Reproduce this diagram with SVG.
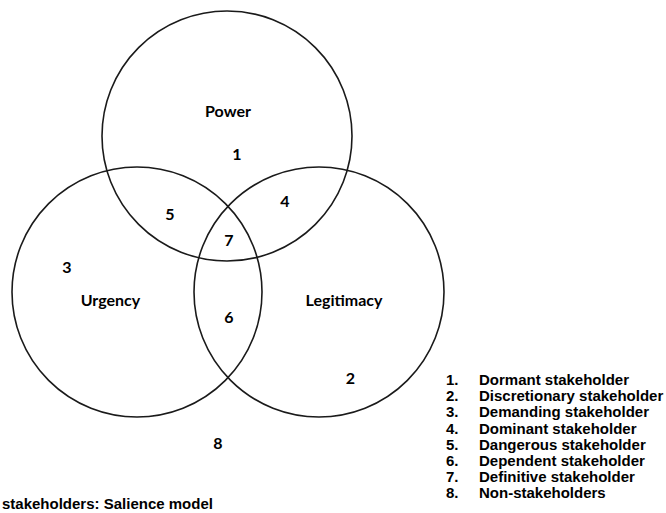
<svg xmlns="http://www.w3.org/2000/svg" width="666" height="513" viewBox="0 0 666 513">
<style>
.c{fill:none;stroke:#1a1a1a;stroke-width:1.6}
.lb{font-family:Lato,"Open Sans",sans-serif;font-weight:bold;font-size:16px;fill:#000;text-anchor:middle}
.lg{font-family:"Liberation Sans",Arial,sans-serif;font-weight:bold;font-size:15px;fill:#000}
</style>
<rect width="666" height="513" fill="#fff"/>
<g id="power"><circle class="c" cx="227" cy="136" r="125"/><text class="lb" x="228" y="117">Power</text></g>
<g id="urgency"><circle class="c" cx="137" cy="292" r="125"/><text class="lb" x="110.5" y="306">Urgency</text></g>
<g id="legitimacy"><circle class="c" cx="319" cy="292" r="125"/><text class="lb" x="344" y="306">Legitimacy</text></g>
<g id="regions">
<text class="lb" x="237" y="160">1</text>
<text class="lb" x="350.5" y="384">2</text>
<text class="lb" x="67" y="273">3</text>
<text class="lb" x="285" y="207">4</text>
<text class="lb" x="170" y="220">5</text>
<text class="lb" x="229" y="323">6</text>
<text class="lb" x="229" y="246">7</text>
<text class="lb" x="218" y="449">8</text>
</g>
<g id="connectors"></g>
<g id="legend">
<text class="lg" x="446" y="385">1.</text><text class="lg" x="479" y="385">Dormant stakeholder</text>
<text class="lg" x="446" y="401.2">2.</text><text class="lg" x="479" y="401.2">Discretionary stakeholder</text>
<text class="lg" x="446" y="417.4">3.</text><text class="lg" x="479" y="417.4">Demanding stakeholder</text>
<text class="lg" x="446" y="433.6">4.</text><text class="lg" x="479" y="433.6">Dominant stakeholder</text>
<text class="lg" x="446" y="449.8">5.</text><text class="lg" x="479" y="449.8">Dangerous stakeholder</text>
<text class="lg" x="446" y="466">6.</text><text class="lg" x="479" y="466">Dependent stakeholder</text>
<text class="lg" x="446" y="482.2">7.</text><text class="lg" x="479" y="482.2">Definitive stakeholder</text>
<text class="lg" x="446" y="498.4">8.</text><text class="lg" x="479" y="498.4">Non-stakeholders</text>
</g>
<g id="title"><text class="lg" x="2" y="509">stakeholders: Salience model</text></g>
</svg>
